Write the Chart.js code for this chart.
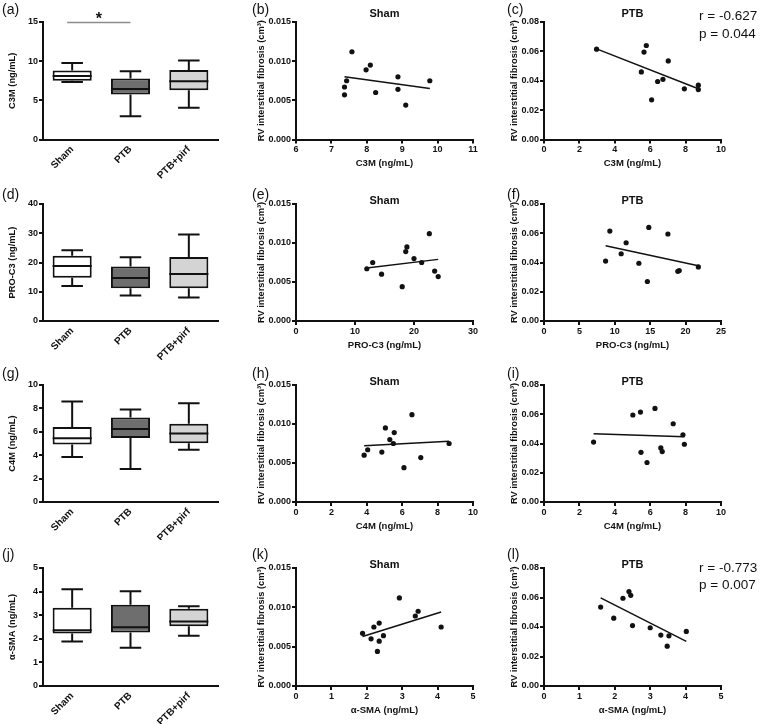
<!DOCTYPE html>
<html>
<head>
<meta charset="utf-8">
<script src="https://cdn.jsdelivr.net/npm/chart.js@4"></script>
<style>
  body { margin: 0; background: #fff; width: 760px; height: 724px; position: relative; overflow: hidden;
         font-family: "Liberation Sans", Arial, Helvetica, sans-serif; color: #111; }
  canvas { position: absolute; }
  .lbl { position: absolute; font-size: 14px; line-height: 16px; }
  .ttl { position: absolute; font-size: 11px; line-height: 14px; font-weight: bold; transform: translateX(-50%); white-space: nowrap; }
  .stat { position: absolute; font-size: 13.5px; line-height: 17px; white-space: nowrap; }
</style>
</head>
<body>
<script>
const FONT = '"Liberation Sans", Arial, Helvetica, sans-serif';
Chart.defaults.font.family = FONT;
Chart.defaults.color = '#111';

// groups for the box plots
const groups = ['Sham', 'PTB', 'PTB+pirf'];
const boxFills = ['#ffffff', '#6e6e6e', '#d4d4d4'];

// box summaries per group: [min, Q1, median, Q3, max]
const c3mBox = [[7.35, 7.5, 8.1, 8.8, 9.78], [2.97, 5.74, 6.46, 7.78, 8.72], [4.04, 6.29, 7.44, 8.88, 10.07]];
const proC3Box = [[12.0, 14.8, 18.8, 22.3, 24.2], [8.7, 11.2, 14.7, 18.6, 21.8], [8.0, 11.2, 16.1, 21.9, 29.6]];
const c4mBox = [[3.84, 4.91, 5.45, 6.42, 8.6], [2.81, 5.48, 6.25, 7.22, 7.9], [4.46, 5.03, 5.85, 6.68, 8.44]];
const smaBox = [[1.89, 2.22, 2.36, 3.32, 4.1], [1.62, 2.27, 2.49, 3.44, 4.02], [2.13, 2.53, 2.73, 3.27, 3.38]];

// RV interstitial fibrosis (cm3), one value per animal
const shamFibrosis = [0.0112, 0.0095, 0.0089, 0.0080, 0.0075, 0.0075, 0.0067, 0.0064, 0.0060, 0.0057, 0.0044];
const ptbFibrosis = [0.064, 0.0615, 0.0595, 0.0535, 0.046, 0.041, 0.0395, 0.037, 0.0345, 0.034, 0.027];

// markers per animal (same order as above)
const shamC3M = [7.58, 8.1, 7.98, 8.88, 7.43, 9.78, 7.37, 8.88, 8.25, 7.37, 9.1];
const shamProC3 = [22.6, 18.8, 18.6, 20.0, 13.0, 21.3, 12.0, 23.5, 14.5, 24.1, 18.0];
const shamC4M = [6.55, 5.05, 5.55, 5.3, 5.5, 8.65, 4.05, 4.85, 3.85, 7.05, 6.1];
const shamSMA = [2.92, 3.45, 3.37, 2.35, 2.2, 4.1, 1.88, 2.47, 2.12, 2.35, 2.3];
const ptbC3M = [5.78, 2.97, 5.65, 7.02, 5.5, 6.72, 6.42, 8.72, 7.93, 8.72, 6.08];
const ptbProC3 = [14.8, 9.3, 17.5, 11.6, 10.9, 8.7, 13.4, 21.8, 19.1, 18.9, 14.6];
const ptbC4M = [6.27, 5.45, 5.02, 7.3, 7.85, 2.8, 7.93, 6.6, 6.68, 5.48, 5.82];
const ptbSMA = [2.4, 2.45, 2.23, 1.6, 1.97, 2.5, 3.0, 4.02, 3.3, 3.53, 3.48];

// regression lines: [x start, x end] and [y start, y end]
const fitShamC3MX = [7.37, 9.78], fitShamC3MY = [0.0080, 0.0065];
const fitPtbC3MX = [2.97, 8.72], fitPtbC3MY = [0.0617, 0.0346];
const fitShamProC3X = [12.0, 24.1], fitShamProC3Y = [0.0068, 0.0079];
const fitPtbProC3X = [8.7, 21.8], fitPtbProC3Y = [0.0515, 0.0378];
const fitShamC4MX = [3.85, 8.65], fitShamC4MY = [0.0072, 0.0078];
const fitPtbC4MX = [2.8, 7.93], fitPtbC4MY = [0.0466, 0.0447];
const fitShamSMAX = [1.88, 4.1], fitShamSMAY = [0.0063, 0.0094];
const fitPtbSMAX = [1.6, 4.02], fitPtbSMAY = [0.0597, 0.0302];

const statC3M = ['r = -0.627', 'p = 0.044'];
const statSMA = ['r = -0.773', 'p = 0.007'];

// page grid: cell box and plot box of each column / row
const COLS = [
  {x: 0, w: 250, l: 43, r: 218, yt: 7},
  {x: 250, w: 255, l: 296, r: 473, yt: 5.4},
  {x: 505, w: 255, l: 544, r: 721, yt: 3.7}
];
const ROWS = [
  {y: 0, h: 180, t: 22, b: 139.5, title: 13, lbl: 9},
  {y: 180, h: 180, t: 204, b: 321, title: 200, lbl: 194},
  {y: 360, h: 180, t: 385, b: 502, title: 381, lbl: 373},
  {y: 540, h: 184, t: 568, b: 686, title: 564, lbl: 554}
];

function frame(col, row) {
  const c = document.createElement('canvas');
  c.width = col.w;
  c.height = row.h;
  c.style.left = col.x + 'px';
  c.style.top = row.y + 'px';
  document.body.appendChild(c);
  return c;
}

function addText(cls, text, left, top) {
  const d = document.createElement('div');
  d.className = cls;
  d.textContent = text;
  d.style.left = left + 'px';
  d.style.top = top + 'px';
  document.body.appendChild(d);
}

function bold(size) { return {family: FONT, size: size, weight: 'bold'}; }

const tickGrid = {drawOnChartArea: false, drawTicks: true, tickLength: 4, color: '#111', lineWidth: 2};
const axisLine = {display: true, color: '#111', width: 2};

function yAxis(col, min, max, step, dec, title) {
  return {
    type: 'linear', min: min, max: max,
    ticks: {stepSize: step, font: bold(9), color: '#111', padding: 1, callback: v => v.toFixed(dec)},
    grid: tickGrid,
    border: axisLine,
    title: {display: true, text: title, font: bold(9.3), color: '#111', padding: {top: col.yt, bottom: 0}},
    afterFit: s => { s.width = col.l - col.x; }
  };
}

function xAxis(row, min, max, step, title) {
  const h = row.y + row.h - row.b;
  return {
    type: 'linear', min: min, max: max,
    ticks: {stepSize: step, font: bold(9), color: '#111', padding: 1},
    grid: tickGrid,
    border: axisLine,
    title: {display: true, text: title, font: bold(9.5), color: '#111', padding: {top: 0, bottom: h - 24 - 5.7}},
    afterFit: s => { s.height = h; }
  };
}

// whiskers, medians and the significance bar for the box plots
const boxWhiskers = {
  id: 'boxWhiskers',
  afterDatasetsDraw(chart, args, opts) {
    const ctx = chart.ctx;
    const y = chart.scales.y;
    const bars = chart.getDatasetMeta(0).data;
    ctx.save();
    ctx.strokeStyle = '#111';
    ctx.lineWidth = 2;
    bars.forEach((bar, i) => {
      const s = opts.stats[i];
      const half = bar.width / 2;
      const cap = half * 0.55;
      const yMin = y.getPixelForValue(s[0]);
      const yQ1 = y.getPixelForValue(s[1]);
      const yMed = y.getPixelForValue(s[2]);
      const yQ3 = y.getPixelForValue(s[3]);
      const yMax = y.getPixelForValue(s[4]);
      ctx.beginPath();
      ctx.moveTo(bar.x - half, yMed); ctx.lineTo(bar.x + half, yMed);
      ctx.moveTo(bar.x, yQ3); ctx.lineTo(bar.x, yMax);
      ctx.moveTo(bar.x - cap, yMax); ctx.lineTo(bar.x + cap, yMax);
      ctx.moveTo(bar.x, yQ1); ctx.lineTo(bar.x, yMin);
      ctx.moveTo(bar.x - cap, yMin); ctx.lineTo(bar.x + cap, yMin);
      ctx.stroke();
    });
    if (opts.sig) {
      const x0 = bars[0].x - 5, x1 = bars[1].x;
      const yy = y.getPixelForValue(y.max) + 0.5;
      ctx.strokeStyle = '#8c8c8c';
      ctx.lineWidth = 1.5;
      ctx.beginPath();
      ctx.moveTo(x0, yy); ctx.lineTo(x1, yy);
      ctx.stroke();
      ctx.fillStyle = '#111';
      ctx.font = 'bold 16px ' + FONT;
      ctx.textAlign = 'center';
      ctx.textBaseline = 'alphabetic';
      ctx.fillText('*', (x0 + x1) / 2, yy + 1);
    }
    ctx.restore();
  }
};

function boxChart(row, stats, yMax, step, title, sig) {
  const col = COLS[0];
  new Chart(frame(col, row), {
    type: 'bar',
    data: {
      labels: groups,
      datasets: [{
        data: stats.map(s => [s[1], s[3]]),
        backgroundColor: boxFills,
        borderColor: '#111',
        borderWidth: 2,
        borderSkipped: false,
        barPercentage: 0.67,
        categoryPercentage: 1
      }]
    },
    options: {
      responsive: false,
      animation: false,
      layout: {padding: {left: 0, right: col.x + col.w - col.r, top: row.t - row.y, bottom: 0}},
      plugins: {legend: {display: false}, tooltip: {enabled: false}, boxWhiskers: {stats: stats, sig: sig}},
      scales: {
        x: {
          type: 'category', offset: true,
          grid: {display: false, drawTicks: false},
          border: axisLine,
          ticks: {font: bold(10), color: '#111', minRotation: 45, maxRotation: 45, padding: 4},
          afterFit: s => { s.height = row.y + row.h - row.b; }
        },
        y: yAxis(col, 0, yMax, step, 0, title)
      }
    },
    plugins: [boxWhiskers]
  });
}

function scatterChart(col, row, xs, ys, fitX, fitY, xr, xTitle, yr) {
  new Chart(frame(col, row), {
    type: 'scatter',
    data: {
      datasets: [
        {
          data: xs.map((x, i) => ({x: x, y: ys[i]})),
          pointRadius: 2.6, backgroundColor: '#111', borderWidth: 0
        },
        {
          type: 'line',
          data: fitX.map((x, i) => ({x: x, y: fitY[i]})),
          borderColor: '#111', borderWidth: 1.5, pointRadius: 0, fill: false
        }
      ]
    },
    options: {
      responsive: false,
      animation: false,
      layout: {padding: {left: 0, right: col.x + col.w - col.r, top: row.t - row.y, bottom: 0}},
      plugins: {legend: {display: false}, tooltip: {enabled: false}},
      scales: {
        x: xAxis(row, xr[0], xr[1], xr[2], xTitle),
        y: yAxis(col, 0, yr[0], yr[1], yr[2], 'RV interstitial fibrosis (cm\u00b3)')
      }
    }
  });
}

const shamY = [0.015, 0.005, 3];
const ptbY = [0.08, 0.02, 2];

// row 1: C3M
boxChart(ROWS[0], c3mBox, 15, 5, 'C3M (ng/mL)', true);
scatterChart(COLS[1], ROWS[0], shamC3M, shamFibrosis, fitShamC3MX, fitShamC3MY, [6, 11, 1], 'C3M (ng/mL)', shamY);
scatterChart(COLS[2], ROWS[0], ptbC3M, ptbFibrosis, fitPtbC3MX, fitPtbC3MY, [0, 10, 2], 'C3M (ng/mL)', ptbY);

// row 2: PRO-C3
boxChart(ROWS[1], proC3Box, 40, 10, 'PRO-C3 (ng/mL)', false);
scatterChart(COLS[1], ROWS[1], shamProC3, shamFibrosis, fitShamProC3X, fitShamProC3Y, [0, 30, 10], 'PRO-C3 (ng/mL)', shamY);
scatterChart(COLS[2], ROWS[1], ptbProC3, ptbFibrosis, fitPtbProC3X, fitPtbProC3Y, [0, 25, 5], 'PRO-C3 (ng/mL)', ptbY);

// row 3: C4M
boxChart(ROWS[2], c4mBox, 10, 2, 'C4M (ng/mL)', false);
scatterChart(COLS[1], ROWS[2], shamC4M, shamFibrosis, fitShamC4MX, fitShamC4MY, [0, 10, 2], 'C4M (ng/mL)', shamY);
scatterChart(COLS[2], ROWS[2], ptbC4M, ptbFibrosis, fitPtbC4MX, fitPtbC4MY, [0, 10, 2], 'C4M (ng/mL)', ptbY);

// row 4: alpha-SMA
boxChart(ROWS[3], smaBox, 5, 1, '\u03b1-SMA (ng/mL)', false);
scatterChart(COLS[1], ROWS[3], shamSMA, shamFibrosis, fitShamSMAX, fitShamSMAY, [0, 5, 1], '\u03b1-SMA (ng/mL)', shamY);
scatterChart(COLS[2], ROWS[3], ptbSMA, ptbFibrosis, fitPtbSMAX, fitPtbSMAY, [0, 5, 1], '\u03b1-SMA (ng/mL)', ptbY);

// panel letters, panel titles and correlation stats
const letters = [['(a)', '(b)', '(c)'], ['(d)', '(e)', '(f)'], ['(g)', '(h)', '(i)'], ['(j)', '(k)', '(l)']];
ROWS.forEach((row, r) => {
  COLS.forEach((col, c) => addText('lbl', letters[r][c], col.x + 2, row.lbl - 8));
  addText('ttl', 'Sham', (COLS[1].l + COLS[1].r) / 2, row.title - 7);
  addText('ttl', 'PTB', (COLS[2].l + COLS[2].r) / 2, row.title - 7);
});
addText('stat', statC3M[0], 699, 15 - 8.5);
addText('stat', statC3M[1], 699, 33 - 8.5);
addText('stat', statSMA[0], 699, 567 - 8.5);
addText('stat', statSMA[1], 699, 584 - 8.5);
</script>
</body>
</html>
